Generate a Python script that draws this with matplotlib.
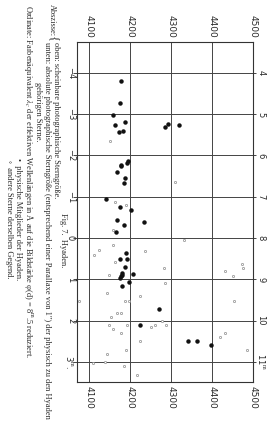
import matplotlib
matplotlib.use("Agg")
import matplotlib.pyplot as plt

plt.rcParams['mathtext.fontset'] = 'stix'

# physical members of the Hyades (filled dots): colour equivalent (A), absolute mag
lam_phys = [4177, 4175, 4157, 4164, 4188, 4173, 4183, 4284, 4292, 4320,
            4178, 4177, 4194, 4193, 4168, 4188, 4186, 4140, 4176, 4201,
            4167, 4233, 4186, 4165, 4189, 4191, 4174, 4188, 4181, 4179,
            4177, 4175, 4207, 4198, 4181, 4271, 4225, 4340, 4362, 4398]
mag_phys = [-3.80, -3.27, -2.97, -2.73, -2.81, -2.58, -2.60, -2.69, -2.77, -2.73,
            -1.77, -1.75, -1.87, -1.82, -1.61, -1.45, -1.33, -0.95, -0.74, -0.69,
            -0.43, -0.39, -0.31, -0.14, 0.37, 0.50, 0.51, 0.71, 0.86, 0.90,
            0.93, 0.97, 0.87, 1.06, 1.16, 1.71, 2.11, 2.50, 2.50, 2.60]

# other stars of the same region (small open circles)
lam_other = [4151, 4309, 4190, 4163, 4159, 4236, 4124, 4112, 4157, 4164,
             4147, 4283, 4285, 4331, 4473, 4475, 4431, 4452, 4143, 4224,
             4188, 4198, 4454, 4076, 4167, 4178, 4153, 4147, 4159, 4191,
             4178, 4250, 4261, 4277, 4287, 4224, 4189, 4144, 4139, 4185,
             4216, 4110, 4420, 4431, 4486]
mag_other = [-2.35, -1.36, -0.79, -0.88, -0.19, 0.32, 0.28, 0.42, 0.16, 0.59,
             0.90, 0.72, 1.08, 0.05, 0.62, 0.72, 0.80, 0.92, 1.33, 1.41,
             1.52, 1.52, 1.53, 1.52, 1.82, 1.82, 1.92, 2.11, 2.21, 2.12,
             2.31, 2.15, 2.11, 2.02, 2.11, 2.50, 2.71, 2.82, 3.01, 3.11,
             3.32, 3.03, 2.41, 2.31, 2.71]

lam_ticks = [4100, 4200, 4300, 4400, 4500]
abs_ticks = [-4, -3, -2, -1, 0, 1, 2, 3]
abs_labels = ['\u22124', '\u22123', '\u22122', '\u22121', '0', '1', '2', '3$^{\\rm m}$.']
app_ticks = [4, 5, 6, 7, 8, 9, 10, 11]
app_labels = ['4', '5', '6', '7', '8', '9', '10', '11$^{\\rm m}$']

W, H = 271, 422
def fx(px):
    return px / W
def fy(py):
    return 1 - py / H

fig = plt.figure(figsize=(W / 100, H / 100), dpi=100)
ax = fig.add_axes([fx(77), fy(382), 176 / W, 340 / H])

ink = '#2a2a2a'
ax.set_xlim(4070, 4500)
ax.set_ylim(3.49, -4.75)
ax.grid(True, color='#444444', lw=0.7)
ax.set_axisbelow(True)
for s in ax.spines.values():
    s.set_color('#333333')
    s.set_linewidth(0.8)

ax.plot(lam_other, mag_other, 'o', ms=1.6, mfc='white', mec='#8a8a8a', mew=0.5, ls='none')
ax.plot(lam_phys, mag_phys, 'o', ms=2.2, color='#111111', ls='none')

ax.set_xticks(lam_ticks, [str(v) for v in lam_ticks])
ax.tick_params(axis='x', top=True, labeltop=True, bottom=True, labelbottom=True,
               length=0, pad=3, labelrotation=-90, labelsize=6.5, labelcolor=ink)
ax.set_yticks(abs_ticks, abs_labels)
ax.tick_params(axis='y', left=True, right=False, length=3, width=0.7, color='#444444',
               pad=-1.5, labelrotation=-90, labelsize=6, labelcolor=ink)
for lbl in ax.get_yticklabels():
    lbl.set_va('center')

sec = ax.secondary_yaxis('right', functions=(lambda m: m + 8, lambda m: m - 8))
sec.set_yticks(app_ticks, app_labels)
sec.tick_params(length=2, width=0.7, color='#444444', pad=0.5, labelrotation=-90,
                labelsize=6, labelcolor=ink)
for lbl in sec.get_yticklabels():
    lbl.set_va('center')
sec.spines['right'].set_visible(False)

# caption, printed sideways
cap = dict(rotation=-90, rotation_mode='anchor', ha='left', va='center',
           fontsize=6.0, color=ink, family=['Liberation Serif', 'DejaVu Serif'])
fig.text(fx(63), fy(213), 'Fig. 7.  Hyaden.', **cap)
fig.text(fx(51.5), fy(4), 'Abszisse:', **cap)
fig.text(fx(52), fy(36), '{', **{**cap, 'fontsize': 9})
fig.text(fx(56), fy(42), 'oben: scheinbare photographische Sterngröße.', **cap)
fig.text(fx(47), fy(42), 'unten: absolute photographische Sterngröße (entsprechend einer '
         'Parallaxe von 1\u2033) der physisch zu den Hyaden', **cap)
fig.text(fx(38), fy(82), 'gehörigen Sterne.', **cap)
fig.text(fx(28), fy(5), 'Ordinate: Farbenäquivalent $\\lambda_c$ der effektiven Wellenlängen '
         'in Å auf die Bildstärke φ(d) = 8$^{\\rm m}$.5 reduziert.', **cap)
fig.text(fx(18), fy(158), '\u2022  physische Mitglieder der Hyaden.', **cap)
fig.text(fx(9), fy(160), '\u25e6  andere Sterne derselben Gegend.',
         **{**cap, 'family': ['Liberation Serif', 'DejaVu Sans']})

fig.savefig('out.png', dpi=100)
